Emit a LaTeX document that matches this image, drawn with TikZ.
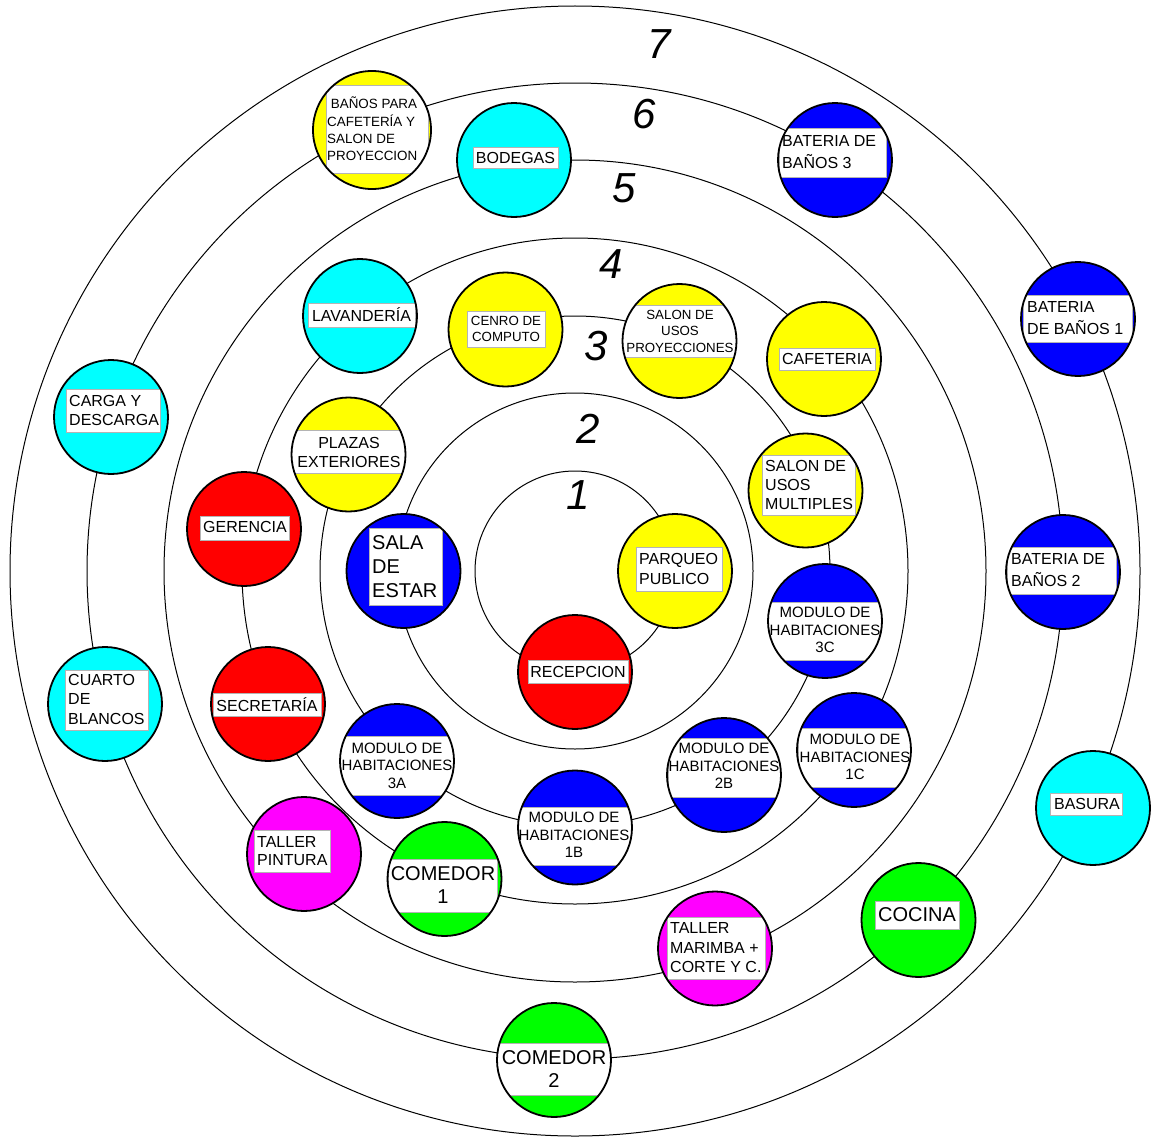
\documentclass[tikz,border=0pt]{standalone}
\usepackage{fontspec}
\setmainfont{Liberation Sans}
\definecolor{cYel}{RGB}{255,255,0}
\definecolor{cRed}{RGB}{255,0,0}
\definecolor{cBlu}{RGB}{0,0,255}
\definecolor{cCya}{RGB}{0,255,255}
\definecolor{cGrn}{RGB}{0,255,0}
\definecolor{cMag}{RGB}{255,0,255}
\definecolor{boxgray}{RGB}{180,180,180}
\tikzset{
  ring/.style={draw=black, line width=1pt},
  rim/.style={draw=black, line width=1.8pt},
  labelbox/.style={fill=white, draw=boxgray, line width=0.8pt},
  ringnum/.style={font=\fontsize{42}{42}\selectfont\itshape, inner sep=0pt},
  lbl/.style={inner sep=0pt, font=\fontsize{16}{19.5}\selectfont},
  lblL/.style={lbl, anchor=west, align=left},
  lblC/.style={lbl, anchor=center, align=center},
  small/.style={font=\fontsize{13.3}{16.8}\selectfont},
  modf/.style={font=\fontsize{15}{17.5}\selectfont},
  big/.style={font=\fontsize{20}{23.5}\selectfont},
}
% #1 radius, #2 name, #3 x, #4 y, #5 colour, #6 x1, #7 y1, #8 x2, #9 y2
\newcommand\bub[9][57]{%
  \node[circle, inner sep=0pt, minimum size=2*#1pt, fill=#5] (#2) at (#3,#4) {};
  \begin{scope}
    \clip (#2.center) circle[radius=#1pt];
    \path[labelbox] (#6,#7) rectangle (#8,#9);
  \end{scope}
  \draw[rim] (#2.center) circle[radius=#1pt];
}
\begin{document}
\begin{tikzpicture}[x=1pt, y=-1pt]
\useasboundingbox (0,0) rectangle (1151,1140);
\fill[white] (0,0) rectangle (1151,1140);
\coordinate (O) at (575,571);
\draw[ring] (O) circle[radius=100pt];
\draw[ring] (O) circle[radius=178pt];
\draw[ring] (O) circle[radius=255pt];
\draw[ring] (O) circle[radius=333pt];
\draw[ring] (O) circle[radius=411pt];
\draw[ring] (O) circle[radius=488pt];
\draw[ring] (O) circle[radius=565pt];

\node[ringnum] (n1) at (578,495) {1};
\node[ringnum] (n2) at (588,429) {2};
\node[ringnum] (n3) at (596,346) {3};
\node[ringnum] (n4) at (611,264) {4};
\node[ringnum] (n5) at (624,188) {5};
\node[ringnum] (n6) at (644,114) {6};
\node[ringnum] (n7) at (659,44) {7};

% ring 1
\bub{parqueo}{675}{571}{cYel}{636}{547}{722}{591}
\node[lblL] (tparqueo) at (639,569) {PARQUEO\\PUBLICO};
\bub{recepcion}{575}{672}{cRed}{528}{660}{628}{683}
\node[lblC] (trecepcion) at (578,672) {RECEPCION};
% ring 2
\bub{sala}{403.5}{571}{cBlu}{369}{528}{442}{605}
\node[lblL, big, font=\fontsize{20}{24}\selectfont] (tsala) at (372,566.5) {SALA\\DE\\ESTAR};
% ring 3
\bub{computo}{505.5}{329.5}{cYel}{467}{311}{545}{347}
\node[lblC, small] (tcomputo) at (506,329) {CENRO DE\\COMPUTO};
\bub{salonproy}{679.5}{341}{cYel}{600}{305}{760}{357}
\node[lblC, small, font=\fontsize{13.3}{16.5}\selectfont] (tsalonproy) at (680,331) {SALON DE\\USOS\\PROYECCIONES};
\bub{multiples}{805.5}{490.5}{cYel}{762}{455}{855}{515}
\node[lblL, font=\fontsize{16}{19}\selectfont] (tmultiples) at (765,485) {SALON DE\\USOS\\MULTIPLES};
\bub{plazas}{348.5}{454.5}{cYel}{280}{430}{420}{473}
\node[lblC, font=\fontsize{16}{19}\selectfont] (tplazas) at (349,452) {PLAZAS\\EXTERIORES};
\bub{modtresc}{825}{621}{cBlu}{760}{602}{883}{660}
\node[lblC, modf] (tmodtresc) at (825,630) {MODULO DE\\HABITACIONES\\3C};
\bub{moddosb}{724}{775}{cBlu}{668}{738}{790}{797}
\node[lblC, modf] (tmoddosb) at (724,766) {MODULO DE\\HABITACIONES\\2B};
\bub{modunob}{575}{827.5}{cBlu}{517}{807}{632}{865}
\node[lblC, modf] (tmodunob) at (574,835) {MODULO DE\\HABITACIONES\\1B};
\bub{modtresa}{397}{761}{cBlu}{330}{736}{470}{795}
\node[lblC, modf] (tmodtresa) at (397,765.5) {MODULO DE\\HABITACIONES\\3A};
% ring 4
\bub{cafeteria}{824}{359}{cYel}{779}{348}{875}{370}
\node[lblC] (tcafeteria) at (827,359) {CAFETERIA};
\bub{lavanderia}{360}{316}{cCya}{308}{303}{415}{327}
\node[lblC] (tlavanderia) at (361.5,315) {LAVANDERÍA};
\bub{gerencia}{244}{529}{cRed}{200}{516}{289}{540}
\node[lblC] (tgerencia) at (245,527) {GERENCIA};
\bub{secretaria}{268}{704}{cRed}{213}{693}{321}{716}
\node[lblC] (tsecretaria) at (267,705) {SECRETARÍA};
\bub{comedoruno}{444.5}{879}{cGrn}{388}{859}{497}{912}
\node[lblC, big] (tcomedoruno) at (443,885) {COMEDOR\\1};
\bub{modunoc}{854}{750}{cBlu}{798}{728}{912}{787}
\node[lblC, modf] (tmodunoc) at (855,757) {MODULO DE\\HABITACIONES\\1C};
% ring 5
\bub{bodegas}{514}{160}{cCya}{473}{147}{558}{168}
\node[lblC] (tbodegas) at (515.5,157.5) {BODEGAS};
\bub{pintura}{304}{854}{cMag}{254}{830}{330}{872}
\node[lblL, font=\fontsize{16}{18.5}\selectfont] (tpintura) at (257,851) {TALLER\\PINTURA};
\bub{marimba}{715}{948.5}{cMag}{667}{917}{765}{979}
\node[lblL] (tmarimba) at (670,948) {TALLER\\MARIMBA +\\CORTE Y C.};
% ring 6
\bub[59]{banos}{372}{130}{cYel}{326}{85}{428}{173}
\node[lblL, font=\fontsize{13.4}{17.3}\selectfont] (tbanos) at (327,129) {\ BAÑOS PARA\\CAFETERÍA Y\\SALON DE\\PROYECCION};
\bub{battres}{835}{160}{cBlu}{779}{128}{886}{177}
\node[lblL, font=\fontsize{16}{22}\selectfont] (tbattres) at (782,152) {BATERIA DE\\BAÑOS 3};
\bub{batdos}{1063}{572}{cBlu}{1007}{547}{1116}{594}
\node[lblL, font=\fontsize{16}{22}\selectfont] (tbatdos) at (1011,570) {BATERIA DE\\BAÑOS 2};
\bub{cocina}{918.5}{920}{cGrn}{875}{901}{959}{929}
\node[lblC, big] (tcocina) at (917,915) {COCINA};
\bub{comedordos}{554}{1060}{cGrn}{490}{1043}{620}{1095}
\node[lblC, big] (tcomedordos) at (554,1069) {COMEDOR\\2};
\bub{cuarto}{105}{704}{cCya}{65}{670}{148}{730}
\node[lblL] (tcuarto) at (68,699) {CUARTO\\DE\\BLANCOS};
\bub{carga}{111}{417}{cCya}{66}{389}{160}{432}
\node[lblL, font=\fontsize{16}{19}\selectfont] (tcarga) at (69,410) {CARGA Y\\DESCARGA};
% ring 7
\bub{batuno}{1078}{319}{cBlu}{1023}{295}{1132}{342}
\node[lblL, font=\fontsize{16}{22}\selectfont] (tbatuno) at (1027,318) {BATERIA\\DE BAÑOS 1};
\bub{basura}{1093}{808}{cCya}{1050}{793}{1122}{815}
\node[lblC] (tbasura) at (1087,804) {BASURA};
\end{tikzpicture}
\end{document}
